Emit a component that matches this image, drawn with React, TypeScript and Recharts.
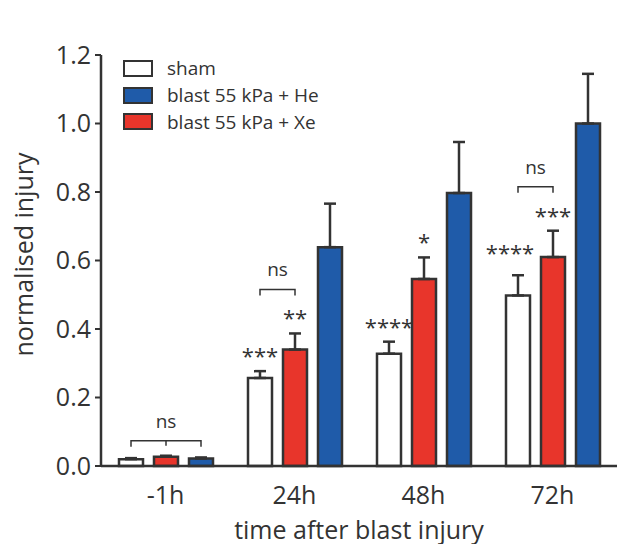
import { BarChart, Bar, XAxis, YAxis, ErrorBar, LabelList, Legend } from 'recharts'

const groups = ['-1h', '24h', '48h', '72h']
const sham = [0.02, 0.257, 0.328, 0.498]
const shamErr = [0.003, 0.02, 0.035, 0.059]
const xe = [0.027, 0.34, 0.546, 0.61]
const xeErr = [0.003, 0.047, 0.063, 0.077]
const he = [0.022, 0.639, 0.797, 1.0]
const heErr = [0.003, 0.127, 0.149, 0.145]
const shamStars = ['', '***', '****', '****']
const xeStars = ['', '**', '*', '***']
// which bar the "ns" bracket reaches to, starting from sham
const nsTo = ['he', 'xe', '', 'xe']
const yTicks = [0, 0.2, 0.4, 0.6, 0.8, 1.0, 1.2]

const series = [
  { key: 'sham', name: 'sham', fill: '#ffffff' },
  { key: 'xe', name: 'blast 55 kPa + Xe', fill: '#e8352b' },
  { key: 'he', name: 'blast 55 kPa + He', fill: '#1f5ba9' },
]
const legendOrder = ['sham', 'he', 'xe']

const rows = groups.map((g, i) => ({
  group: g,
  sham: sham[i],
  shamErr: shamErr[i],
  xe: xe[i],
  xeErr: xeErr[i],
  he: he[i],
  heErr: heErr[i],
  shamStar: shamStars[i],
  xeStar: xeStars[i],
}))

const INK = '#333333'
const FONT = '"Open Sans", sans-serif'
const BAR = 24
const GAP = 11

// small hand nudges for stars that sit off-centre in the original
const starNudge: Record<string, [number, number]> = { '72h-sham': [-8, -7] }

const starLabel = (vals: number[], errs: number[], tag: string) => (p: any) => {
  const { x, y, width, height, index, value } = p
  if (!value) return null
  const pxPer = height / vals[index]
  const top = y - errs[index] * pxPer
  const [dx, dy] = starNudge[`${groups[index]}-${tag}`] || [0, 0]
  return (
    <text key={`s-${tag}-${index}`} x={x + width / 2 + dx} y={top - 7 + dy} textAnchor="middle"
      fontSize={22} fontFamily={FONT} fill={INK}>
      {value}
    </text>
  )
}

const nsLabel = (p: any) => {
  const { x, y, width, height, index } = p
  const to = nsTo[index]
  if (!to) return null
  const pxPer = height / sham[index]
  const base = y + height
  const x1 = x + width / 2
  const steps = to === 'he' ? 2 : 1
  const x2 = x1 + steps * (BAR + GAP)
  const tops = [sham[index] + shamErr[index], xe[index] + xeErr[index]]
  if (to === 'he') tops.push(he[index] + heErr[index])
  const highest = base - Math.max(...tops) * pxPer
  const hasStars = shamStars[index] || xeStars[index]
  const by = highest - 15 - (hasStars ? 29 : 0)
  const mid = (x1 + x2) / 2
  return (
    <g key={`ns-${index}`} stroke={INK} strokeWidth={1.5} fill="none">
      <path d={`M${x1},${by + 6}V${by}H${x2}V${by + 6}`} />
      {steps === 2 && <path d={`M${mid},${by}V${by + 5}`} />}
      <text x={mid} y={by - 13} textAnchor="middle" fontSize={19} fontFamily={FONT}
        fill={INK} stroke="none">ns</text>
    </g>
  )
}

const renderLegend = () => (
  <div style={{ fontFamily: FONT, fontSize: 19, color: INK }}>
    {legendOrder.map((k) => {
      const s = series.find((d) => d.key === k)!
      return (
        <div key={k} style={{ display: 'flex', alignItems: 'center', height: 26.7 }}>
          <div style={{ width: 30, height: 17, boxSizing: 'border-box', border: `2px solid ${INK}`, background: s.fill, marginRight: 14 }} />
          <span>{s.name}</span>
        </div>
      )
    })}
  </div>
)

export default function App() {
  return (
    <div style={{ position: 'absolute', left: 0, top: 0, background: '#fff' }}>
      <BarChart width={617} height={544} data={rows} margin={{ top: 55, right: 0, bottom: 0, left: 0 }}
        barSize={BAR} barGap={GAP}>
        <XAxis dataKey="group" height={78} tickLine={false} tickSize={0} tickMargin={20}
          axisLine={{ stroke: INK, strokeWidth: 2.5 }}
          tick={{ fill: INK, fontSize: 25, fontFamily: FONT }}
          label={{
            content: (p: any) => {
              const vb = p.viewBox
              return (
                <text x={vb.x + vb.width / 2} y={vb.y + vb.height - 5} textAnchor="middle"
                  fontSize={25} fontFamily={FONT} fill={INK}>time after blast injury</text>
              )
            },
          }} />
        <YAxis width={101} domain={[0, 1.2]} ticks={yTicks} interval={0}
          tickFormatter={(v: number) => v.toFixed(1)}
          tickSize={6} tickMargin={4}
          axisLine={{ stroke: INK, strokeWidth: 2.5 }}
          tickLine={{ stroke: INK, strokeWidth: 2 }}
          tick={{ fill: INK, fontSize: 25, fontFamily: FONT }}
          label={{
            content: (p: any) => {
              const vb = p.viewBox
              const cy = vb.y + vb.height / 2 - 6
              return (
                <text transform={`translate(33, ${cy}) rotate(-90)`} textAnchor="middle"
                  fontSize={25} fontFamily={FONT} fill={INK}>normalised injury</text>
              )
            },
          }} />
        <Legend verticalAlign="middle" align="center" layout="horizontal" content={renderLegend}
          wrapperStyle={{ top: 55, left: 123, width: 'auto', height: 'auto' }} />
        <Bar dataKey="sham" name="sham" fill="#ffffff" stroke={INK} strokeWidth={2.5} isAnimationActive={false}>
          <ErrorBar dataKey={(d: any) => [0, d.shamErr]} width={6} stroke={INK} strokeWidth={2.5} isAnimationActive={false} />
          <LabelList dataKey="shamStar" content={starLabel(sham, shamErr, 'sham')} />
          <LabelList dataKey="group" content={nsLabel} />
        </Bar>
        <Bar dataKey="xe" name="blast 55 kPa + Xe" fill="#e8352b" stroke={INK} strokeWidth={2.5} isAnimationActive={false}>
          <ErrorBar dataKey={(d: any) => [0, d.xeErr]} width={6} stroke={INK} strokeWidth={2.5} isAnimationActive={false} />
          <LabelList dataKey="xeStar" content={starLabel(xe, xeErr, 'xe')} />
        </Bar>
        <Bar dataKey="he" name="blast 55 kPa + He" fill="#1f5ba9" stroke={INK} strokeWidth={2.5} isAnimationActive={false}>
          <ErrorBar dataKey={(d: any) => [0, d.heErr]} width={6} stroke={INK} strokeWidth={2.5} isAnimationActive={false} />
        </Bar>
      </BarChart>
    </div>
  )
}
